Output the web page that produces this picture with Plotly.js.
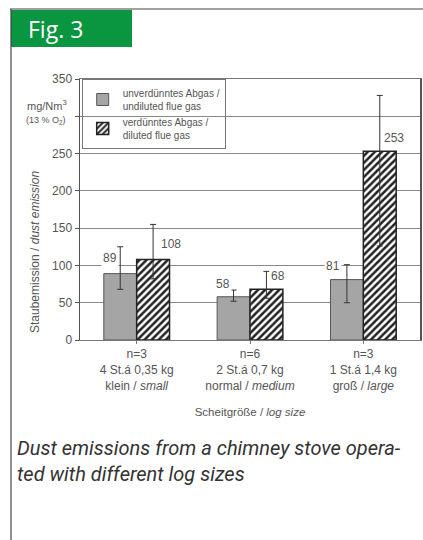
<!DOCTYPE html>
<html><head><meta charset="utf-8">
<script src="https://cdn.plot.ly/plotly-3.0.1.min.js"></script>
<style>html,body{margin:0;padding:0;background:#fff;}#c{width:423px;height:540px;}</style>
</head><body><div id="c"></div>
<script>
const categories = ["n=3<br>4 St.á 0,35 kg<br>klein / <i>small</i>", "n=6<br>2 St.á 0,7 kg<br>normal / <i>medium</i>", "n=3<br>1 St.á 1,4 kg<br>groß / <i>large</i>"];
const undiluted = [89, 58, 81];
const undilutedErrPlus = [36, 9, 20];
const undilutedErrMinus = [21, 6, 31];
const diluted = [108, 68, 253];
const dilutedErrPlus = [47, 24, 75];
const dilutedErrMinus = [26, 12, 127];
const seriesNames = ["unverdünntes Abgas /<br>undiluted flue gas", "verdünntes Abgas /<br>diluted flue gas"];
const yTickVals = [0, 50, 100, 150, 200, 250, 300, 350];
const yTickText = ["0", "50", "100", "150", "200", "250", "", "350"];

const L = 80, R = 420, T = 79, B = 340;
const px = x => (x - L) / (R - L);
const py = y => (B - y) / (B - T);

const barW = 0.29;
const FONT = 'Liberation Sans, Arial, sans-serif';
const traces = [
  {type:'bar', name: seriesNames[0], x:[0,1,2], y: undiluted,
   marker:{color:'#a5a5a5', line:{color:'#555', width:1}},
   error_y:{type:'data', symmetric:false, array: undilutedErrPlus, arrayminus: undilutedErrMinus, color:'#333', thickness:1, width:3}},
  {type:'bar', name: seriesNames[1], x:[0,1,2], y: diluted,
   marker:{color:'#fff', line:{color:'#222', width:1.5}, pattern:{shape:'/', fgcolor:'#222', bgcolor:'#fff', size:5, solidity:0.5}},
   error_y:{type:'data', symmetric:false, array: dilutedErrPlus, arrayminus: dilutedErrMinus, color:'#333', thickness:1, width:3}}
];

const labelShiftsU = [[-10,16],[-11,13],[-14,14]];
const labelShiftsD = [[18,15],[12,13],[14,13]];
const annotations = [];
const lab = (x, v, s) => ({x:x, y:v, xref:'x', yref:'y', xanchor:'center', yanchor:'middle', text:String(v), showarrow:false, xshift:s[0], yshift:s[1], bgcolor:'#fff', font:{family:FONT, size:12, color:'#555'}});
undiluted.forEach((v,i)=>annotations.push(lab(i-barW/2, v, labelShiftsU[i])));
diluted.forEach((v,i)=>annotations.push(lab(i+barW/2, v, labelShiftsD[i])));

const pa = (x, y, text, font, extra) => Object.assign({xref:'paper', yref:'paper', x:px(x), y:py(y), xanchor:'center', yanchor:'middle', text:text, showarrow:false, font:font}, extra||{});
annotations.push(pa(35, 252, 'Staubemission / <i>dust emission</i>', {family:FONT, size:12, color:'#555'}, {textangle:-90}));
annotations.push(pa(47, 105, 'mg/Nm<sup>3</sup>', {family:FONT, size:11, color:'#555'}));
annotations.push(pa(46, 120, '(13 % O<sub>2</sub>)', {family:FONT, size:9, color:'#555'}));
annotations.push(pa(26, 29, 'Fig. 3', {family:'Open Sans, sans-serif', size:23, color:'#fff'}, {xanchor:'left'}));
annotations.push(pa(15, 434, '<i>Dust emissions from a chimney stove opera-<br>ted with different log sizes</i>', {family:'Roboto, sans-serif', size:20, color:'#333'}, {xanchor:'left', yanchor:'top', align:'left'}));

const shapes = [
  {type:'rect', xref:'paper', yref:'paper', x0:px(11), x1:px(132), y0:py(47), y1:py(10), fillcolor:'#0a9640', line:{width:0}, layer:'below'},
  {type:'line', xref:'paper', yref:'paper', x0:px(10), x1:px(423), y0:py(9), y1:py(9), line:{color:'#444', width:1.2}},
  {type:'line', xref:'paper', yref:'paper', x0:px(11), x1:px(11), y0:py(9), y1:py(540), line:{color:'#444', width:1.2}}
];

const layout = {
  width:423, height:540,
  margin:{l:L, r:423-R, t:T, b:540-B, pad:0},
  paper_bgcolor:'#fff', plot_bgcolor:'#fff',
  barmode:'group', bargap:0.42, bargroupgap:0,
  showlegend:true,
  legend:{x:0.005, y:1, xanchor:'left', yanchor:'top', bgcolor:'rgba(0,0,0,0)', bordercolor:'#777', borderwidth:1,
          font:{family:FONT, size:10, color:'#555'}, itemwidth:30, tracegroupgap:6},
  xaxis:{tickvals:[0,1,2], ticktext:categories, range:[-0.5,2.5], showline:true, linecolor:'#777', mirror:true,
         ticks:'outside', tickson:'boundaries', ticklen:3, tickcolor:'#777', showgrid:false,
         tickfont:{family:FONT, size:12, color:'#555'},
         title:{text:'Scheitgröße / <i>log size</i>', font:{family:FONT, size:11.5, color:'#555'}, standoff:16}},
  yaxis:{range:[0,350], tickvals:yTickVals, ticktext:yTickText, showline:true, linecolor:'#555', linewidth:1.5, mirror:true, ticks:'outside', ticklen:4, tickcolor:'#555',
         showgrid:true, gridcolor:'#888', gridwidth:1, zeroline:false,
         tickfont:{family:FONT, size:12, color:'#555'}},
  annotations: annotations,
  shapes: shapes
};
Plotly.newPlot('c', traces, layout, {staticPlot:true, displayModeBar:false});
</script></body></html>
